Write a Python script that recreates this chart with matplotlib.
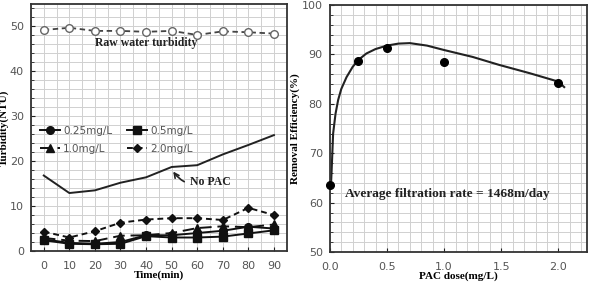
import matplotlib
matplotlib.use("Agg")
import matplotlib.pyplot as plt
from matplotlib.ticker import MultipleLocator

# left panel: turbidity vs time
time = [0, 10, 20, 30, 40, 50, 60, 70, 80, 90]
raw_water = [49.2, 49.7, 49.0, 49.0, 48.8, 49.0, 48.1, 48.9, 48.7, 48.4]
no_pac = [16.8, 12.9, 13.5, 15.2, 16.4, 18.7, 19.1, 21.5, 23.6, 25.8]
dose_025 = [2.6, 1.8, 1.6, 2.0, 3.5, 3.5, 4.0, 4.5, 5.4, 5.0]
dose_05 = [2.4, 1.6, 1.5, 1.6, 3.3, 3.0, 3.0, 3.2, 3.9, 4.6]
dose_10 = [2.9, 2.3, 2.2, 3.4, 3.5, 4.0, 5.1, 5.5, 5.3, 5.9]
dose_20 = [4.3, 3.0, 4.4, 6.3, 7.0, 7.3, 7.3, 6.9, 9.6, 8.0]

# right panel: removal efficiency vs PAC dose
pac_dose = [0.0, 0.25, 0.5, 1.0, 2.0]
removal = [63.5, 88.7, 91.3, 88.5, 84.2]
# fitted curve
curve_x = [0.012, 0.015, 0.029, 0.05, 0.073, 0.1, 0.146, 0.2, 0.25, 0.32, 0.4,
           0.5, 0.6, 0.7, 0.85, 1.0, 1.25, 1.48, 1.75, 2.0, 2.05]
curve_y = [64.5, 66.0, 74.0, 78.0, 80.8, 83.0, 85.4, 87.5, 88.9, 90.2, 91.1,
           91.8, 92.2, 92.3, 91.8, 90.9, 89.5, 87.9, 86.2, 84.5, 83.4]

serif = "Liberation Serif"
tick_color = "#555555"

fig = plt.figure(figsize=(5.9, 2.82), dpi=100)
ax1 = fig.add_axes([0.0525, 0.110, 0.4335, 0.876])
ax2 = fig.add_axes([0.559, 0.106, 0.436, 0.876])

# ---- left
ax1.plot(time, raw_water, "--o", color="#444444", mfc="white", mec="#666666",
         ms=5.5, lw=1.3, dashes=(3, 2))
ax1.plot(time, no_pac, "-", color="#222222", lw=1.4)
l025, = ax1.plot(time, dose_025, "-o", color="#111111", ms=5.5, lw=1.4,
                 label="0.25mg/L")
l05, = ax1.plot(time, dose_05, "-s", color="#111111", ms=5.5, lw=1.4,
                label="0.5mg/L")
l10, = ax1.plot(time, dose_10, "-^", color="#111111", ms=5.5, lw=1.4,
                dashes=(6, 3), label="1.0mg/L")
l20, = ax1.plot(time, dose_20, "-D", color="#111111", ms=4.5, lw=1.4,
                dashes=(3, 2), label="2.0mg/L")

ax1.set_xlim(-5, 95)
ax1.set_ylim(0, 55)
ax1.xaxis.set_major_locator(MultipleLocator(10))
ax1.xaxis.set_minor_locator(MultipleLocator(5))
ax1.yaxis.set_major_locator(MultipleLocator(10))
ax1.yaxis.set_minor_locator(MultipleLocator(2))
ax1.set_yticks([0, 10, 20, 30, 40, 50])
ax1.grid(which="both", color="#d0d0d0", lw=0.7)
ax1.set_axisbelow(True)

ax1.text(40, 46.3, "Raw water turbidity", family=serif, weight="bold",
         fontsize=8.5, ha="center", va="center", color="#222222")
ax1.annotate("No PAC", xy=(50, 18.2), xytext=(57, 15.3), family=serif,
             weight="bold", fontsize=8.5, va="center", color="#222222",
             arrowprops=dict(arrowstyle="->", color="#222222", lw=1.2,
                             connectionstyle="arc3,rad=-0.4"))
ax1.legend([l025, l10, l05, l20], ["0.25mg/L", "1.0mg/L", "0.5mg/L", "2.0mg/L"],
           loc="upper left", bbox_to_anchor=(0.0, 0.545), ncol=2, frameon=False,
           fontsize=7.5, handlelength=1.9, columnspacing=1.4, labelspacing=0.75,
           handletextpad=0.3, labelcolor="#555555")
ax1.set_xlabel("Time(min)", family=serif, weight="bold", fontsize=8, labelpad=0)
ax1.set_ylabel("Turbidity(NTU)", family=serif, weight="bold", fontsize=8,
               labelpad=1)

# ---- right
ax2.plot(curve_x, curve_y, "-", color="#222222", lw=1.5)
ax2.plot(pac_dose, removal, "o", color="black", ms=5.5, clip_on=False, zorder=5)
ax2.set_xlim(0, 2.25)
ax2.set_ylim(50, 100)
ax2.xaxis.set_major_locator(MultipleLocator(0.5))
ax2.xaxis.set_minor_locator(MultipleLocator(0.1))
ax2.yaxis.set_major_locator(MultipleLocator(10))
ax2.yaxis.set_minor_locator(MultipleLocator(2))
ax2.grid(which="both", color="#d0d0d0", lw=0.7)
ax2.set_axisbelow(True)
ax2.set_xticks([0.0, 0.5, 1.0, 1.5, 2.0])
ax2.set_xticklabels(["0.0", "0.5", "1.0", "1.5", "2.0"])
ax2.text(0.13, 61.7, "Average filtration rate = 1468m/day", family=serif,
         weight="bold", fontsize=9.6, va="center", color="#222222")
ax2.set_xlabel("PAC dose(mg/L)", family=serif, weight="bold", fontsize=8,
               labelpad=0)
ax2.set_ylabel("Removal Efficiency(%)", family=serif, weight="bold", fontsize=8,
               labelpad=1)

for ax in (ax1, ax2):
    ax.tick_params(which="both", direction="in", colors="#222222",
                   labelcolor=tick_color, labelsize=8)
    ax.tick_params(which="major", length=3)
    ax.tick_params(which="minor", length=2)
    ax.tick_params(axis="x", which="minor", length=0)
    ax.tick_params(axis="x", which="major", pad=7)
    ax.tick_params(axis="y", which="major", pad=5)
    for s in ax.spines.values():
        s.set_color("#333333")
        s.set_linewidth(1.3)

fig.savefig("out.png", dpi=100)
